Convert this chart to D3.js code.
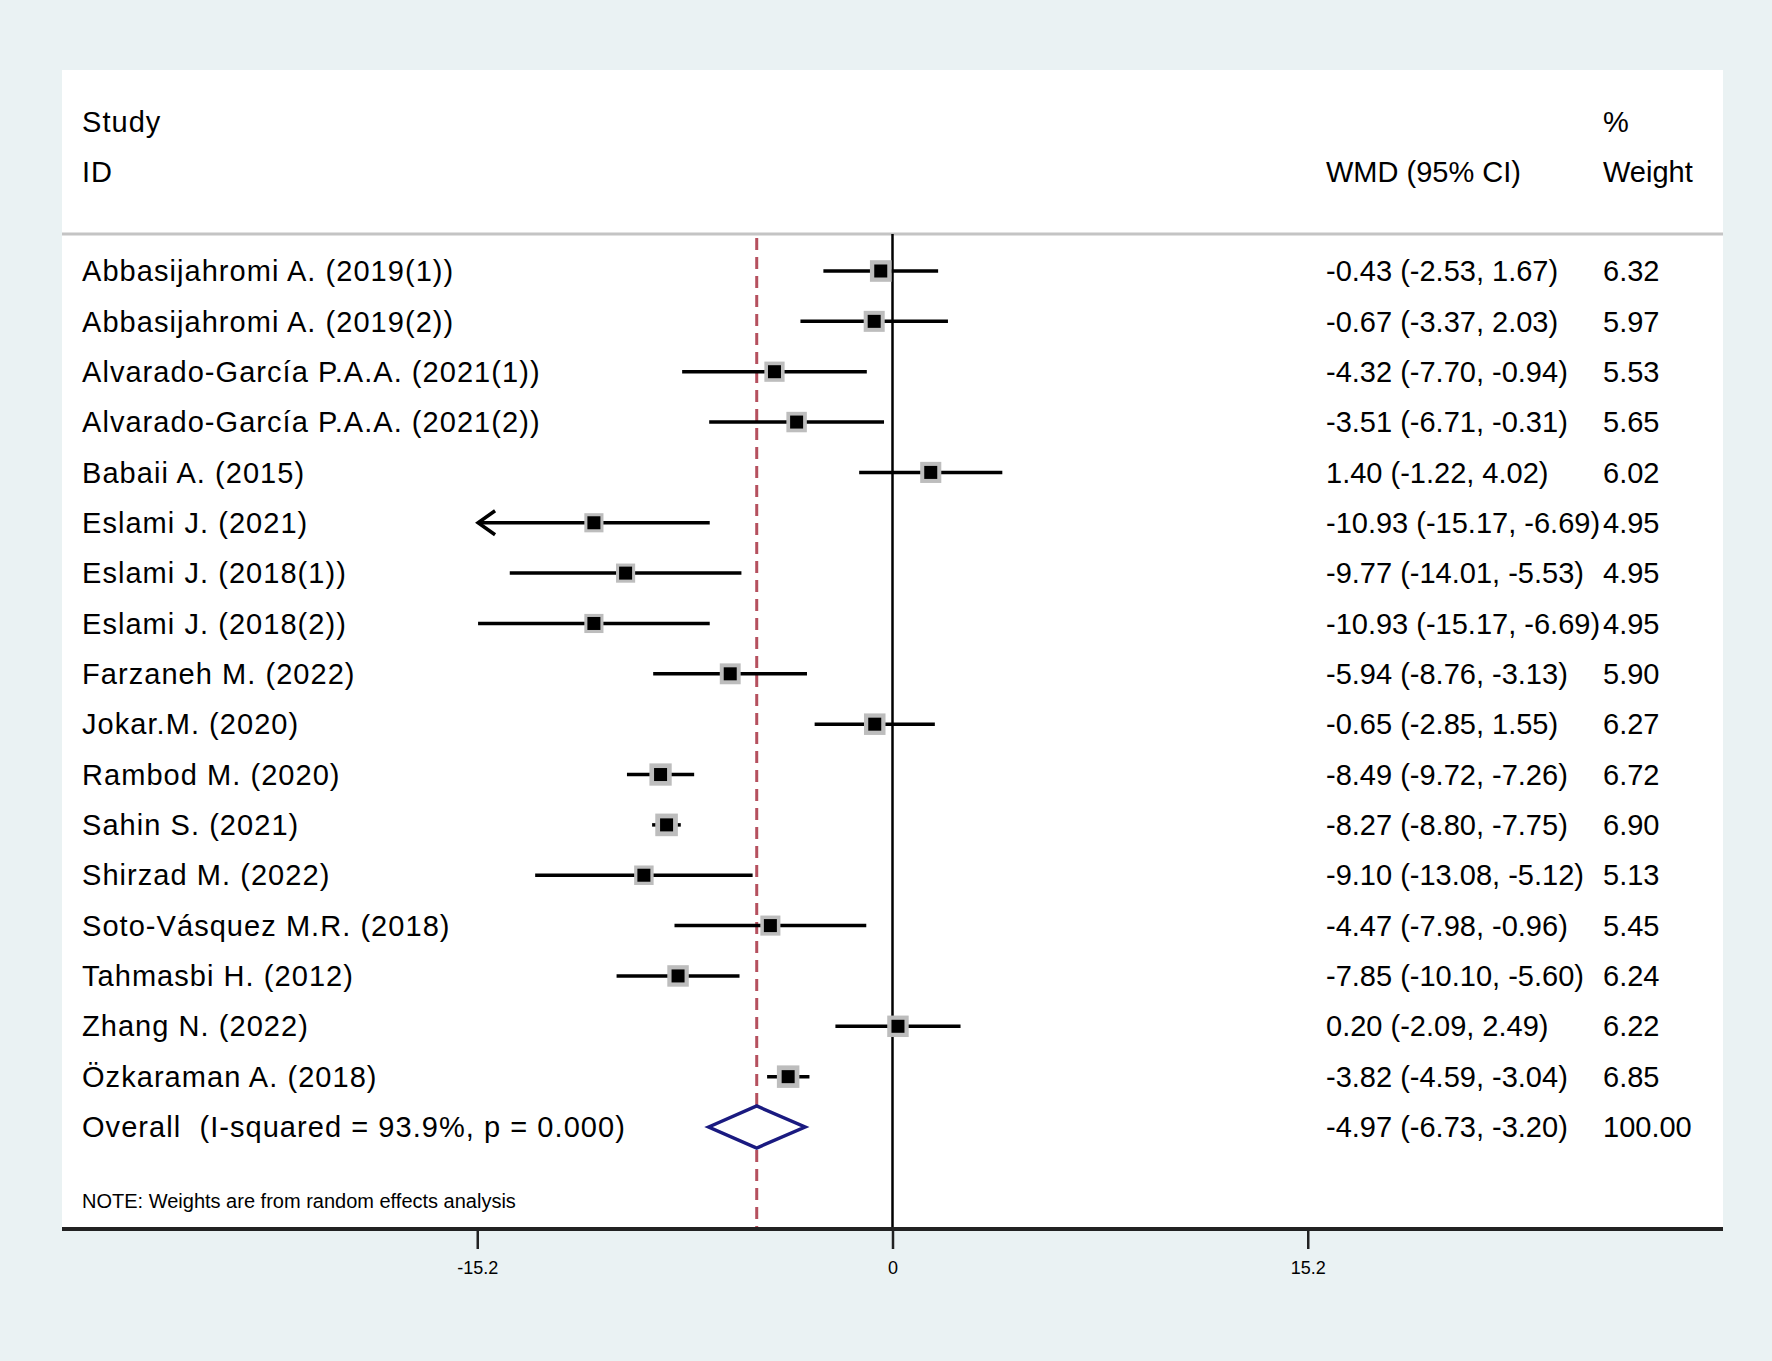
<!DOCTYPE html>
<html>
<head>
<meta charset="utf-8">
<script src="https://d3js.org/d3.v7.min.js"></script>
<style>
  body { margin: 0; background: #eaf2f3; }
  text { font-family: "Liberation Sans", Arial, sans-serif; fill: #000; }
  .lbl { letter-spacing: 1.05px; }
</style>
</head>
<body>
<script>
// study rows
var studies = ["Abbasijahromi A. (2019(1))", "Abbasijahromi A. (2019(2))", "Alvarado-García P.A.A. (2021(1))",
  "Alvarado-García P.A.A. (2021(2))", "Babaii A. (2015)", "Eslami J. (2021)", "Eslami J. (2018(1))",
  "Eslami J. (2018(2))", "Farzaneh M. (2022)", "Jokar.M. (2020)", "Rambod M. (2020)", "Sahin S. (2021)",
  "Shirzad M. (2022)", "Soto-Vásquez M.R. (2018)", "Tahmasbi H. (2012)", "Zhang N. (2022)", "Özkaraman A. (2018)"];
var wmd   = [-0.43, -0.67, -4.32, -3.51, 1.40, -10.93, -9.77, -10.93, -5.94, -0.65, -8.49, -8.27, -9.10, -4.47, -7.85, 0.20, -3.82];
var lower = [-2.53, -3.37, -7.70, -6.71, -1.22, -15.17, -14.01, -15.17, -8.76, -2.85, -9.72, -8.80, -13.08, -7.98, -10.10, -2.09, -4.59];
var upper = [1.67, 2.03, -0.94, -0.31, 4.02, -6.69, -5.53, -6.69, -3.13, 1.55, -7.26, -7.75, -5.12, -0.96, -5.60, 2.49, -3.04];
var weight = [6.32, 5.97, 5.53, 5.65, 6.02, 4.95, 4.95, 4.95, 5.90, 6.27, 6.72, 6.90, 5.13, 5.45, 6.24, 6.22, 6.85];
var ciText = ["-0.43 (-2.53, 1.67)", "-0.67 (-3.37, 2.03)", "-4.32 (-7.70, -0.94)", "-3.51 (-6.71, -0.31)",
  "1.40 (-1.22, 4.02)", "-10.93 (-15.17, -6.69)", "-9.77 (-14.01, -5.53)", "-10.93 (-15.17, -6.69)",
  "-5.94 (-8.76, -3.13)", "-0.65 (-2.85, 1.55)", "-8.49 (-9.72, -7.26)", "-8.27 (-8.80, -7.75)",
  "-9.10 (-13.08, -5.12)", "-4.47 (-7.98, -0.96)", "-7.85 (-10.10, -5.60)", "0.20 (-2.09, 2.49)", "-3.82 (-4.59, -3.04)"];
var weightText = ["6.32", "5.97", "5.53", "5.65", "6.02", "4.95", "4.95", "4.95", "5.90", "6.27", "6.72", "6.90", "5.13", "5.45", "6.24", "6.22", "6.85"];
var arrowRows = ["Eslami J. (2021)"]; // CI drawn with an arrow in the original

var overallLabel = "Overall  (I-squared = 93.9%, p = 0.000)";
var overall = {est: -4.97, lo: -6.73, hi: -3.20, text: "-4.97 (-6.73, -3.20)", weight: "100.00"};
var xTicks = [-15.2, 0, 15.2];
var xTickLabels = ["-15.2", "0", "15.2"];
var note = "NOTE: Weights are from random effects analysis";

var W = 1772, H = 1361;
var panel = {left: 62, right: 1723, top: 70, axisY: 1229};
var fs = 29;

var svg = d3.select("body").append("svg")
  .attr("width", W).attr("height", H);

svg.append("rect") // white plot region
  .attr("x", panel.left).attr("y", panel.top)
  .attr("width", panel.right - panel.left).attr("height", panel.axisY - panel.top)
  .attr("fill", "#fff");

var x = d3.scaleLinear().domain([-30.4, 30.4]).range([panel.left, panel.right]);
var rowNames = studies.concat(["__overall"]);
var y = d3.scalePoint().domain(rowNames).range([271, 1127]);

// header
var header = svg.append("g");
header.append("text").attr("class", "lbl").attr("x", 82).attr("y", 122 + 0.35 * fs).style("font-size", fs + "px").text("Study");
header.append("text").attr("class", "lbl").attr("x", 82).attr("y", 172 + 0.35 * fs).style("font-size", fs + "px").text("ID");
header.append("text").attr("x", 1326).attr("y", 172 + 0.35 * fs).style("font-size", fs + "px").text("WMD (95% CI)");
header.append("text").attr("x", 1603).attr("y", 122 + 0.35 * fs).style("font-size", fs + "px").text("%");
header.append("text").attr("x", 1603).attr("y", 172 + 0.35 * fs).style("font-size", fs + "px").text("Weight");

svg.append("line") // separator under header
  .attr("x1", panel.left).attr("x2", panel.right)
  .attr("y1", 234).attr("y2", 234)
  .attr("stroke", "#c4c4c4").attr("stroke-width", 3);

// no-effect line
svg.append("line")
  .attr("x1", x(0)).attr("x2", x(0))
  .attr("y1", 234).attr("y2", panel.axisY)
  .attr("stroke", "#000").attr("stroke-width", 2.5);

// overall effect dashed line
svg.append("line")
  .attr("x1", x(overall.est)).attr("x2", x(overall.est))
  .attr("y1", 238).attr("y2", panel.axisY)
  .attr("stroke", "#b5505e").attr("stroke-width", 3)
  .attr("stroke-dasharray", "12,7");

var rows = svg.append("g").selectAll("g")
  .data(studies.map(function(s, i) {
    return {name: s, est: wmd[i], lo: lower[i], hi: upper[i], w: weight[i], ci: ciText[i], wt: weightText[i]};
  }))
  .enter().append("g");

rows.append("line") // confidence interval
  .attr("x1", function(d) { return x(d.lo); })
  .attr("x2", function(d) { return x(d.hi); })
  .attr("y1", function(d) { return y(d.name); })
  .attr("y2", function(d) { return y(d.name); })
  .attr("stroke", "#000").attr("stroke-width", 3.5);

rows.filter(function(d) { return arrowRows.indexOf(d.name) >= 0; })
  .append("path")
  .attr("d", function(d) {
    var ax = x(d.lo), ay = y(d.name);
    return "M" + (ax + 17) + "," + (ay - 12) + "L" + ax + "," + ay + "L" + (ax + 17) + "," + (ay + 12);
  })
  .attr("fill", "none").attr("stroke", "#000").attr("stroke-width", 3.5);

rows.append("rect") // weight box
  .each(function(d) {
    var s = 8.6 * Math.sqrt(d.w);
    d3.select(this)
      .attr("x", x(d.est) - s / 2).attr("y", y(d.name) - s / 2)
      .attr("width", s).attr("height", s);
  })
  .attr("fill", "#bdbdbd");

rows.append("rect") // point estimate
  .attr("x", function(d) { return x(d.est) - 6.5; })
  .attr("y", function(d) { return y(d.name) - 6.5; })
  .attr("width", 13).attr("height", 13)
  .attr("fill", "#000");

rows.append("text").attr("class", "lbl")
  .attr("x", 82).attr("y", function(d) { return y(d.name) + 0.35 * fs; })
  .style("font-size", fs + "px").text(function(d) { return d.name; });
rows.append("text")
  .attr("x", 1326).attr("y", function(d) { return y(d.name) + 0.35 * fs; })
  .style("font-size", fs + "px").text(function(d) { return d.ci; });
rows.append("text")
  .attr("x", 1603).attr("y", function(d) { return y(d.name) + 0.35 * fs; })
  .style("font-size", fs + "px").text(function(d) { return d.wt; });

// overall row
var oy = y("__overall");
svg.append("path")
  .attr("d", "M" + x(overall.lo) + "," + oy + "L" + x(overall.est) + "," + (oy - 21) +
    "L" + x(overall.hi) + "," + oy + "L" + x(overall.est) + "," + (oy + 21) + "Z")
  .attr("fill", "#fff").attr("stroke", "#1a1a80").attr("stroke-width", 3.5);
svg.append("text").attr("class", "lbl").attr("x", 82).attr("y", oy + 0.35 * fs)
  .style("font-size", fs + "px").style("white-space", "pre").text(overallLabel);
svg.append("text").attr("x", 1326).attr("y", oy + 0.35 * fs)
  .style("font-size", fs + "px").text(overall.text);
svg.append("text").attr("x", 1603).attr("y", oy + 0.35 * fs)
  .style("font-size", fs + "px").text(overall.weight);

svg.append("text").attr("x", 82).attr("y", 1201 + 7)
  .style("font-size", "20px").text(note);

// x axis
var axis = svg.append("g")
  .attr("transform", "translate(0," + panel.axisY + ")")
  .call(d3.axisBottom(x).tickValues(xTicks).tickSize(20).tickPadding(12)
    .tickFormat(function(d, i) { return xTickLabels[i]; }));
axis.select(".domain").attr("d", "M" + panel.left + ",0H" + panel.right)
  .attr("stroke", "#222").attr("stroke-width", 4);
axis.selectAll(".tick line").attr("stroke", "#222").attr("stroke-width", 2.5);
axis.selectAll(".tick text").style("font-size", "18px")
  .style("font-family", "'Liberation Sans', Arial, sans-serif").attr("fill", "#000");
</script>
</body>
</html>
